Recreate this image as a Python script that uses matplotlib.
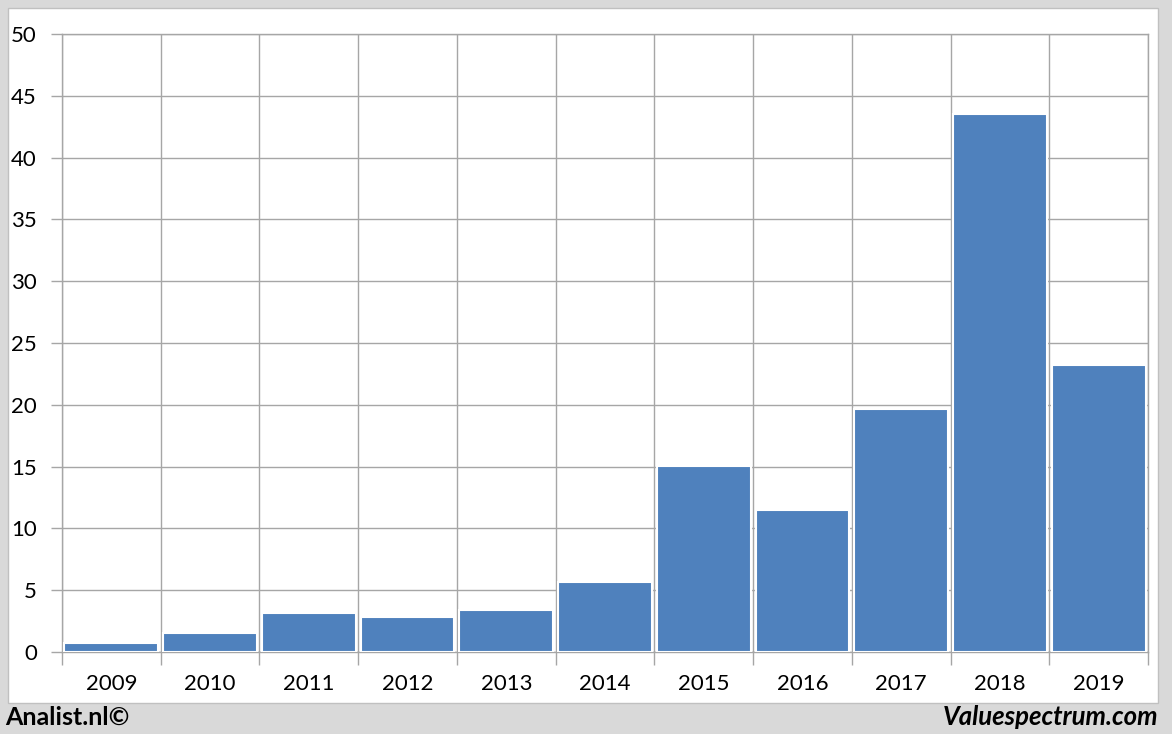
"""
Bar chart of yearly values, 2009-2019, in a grey frame with footer credits
"""

import numpy as np
import matplotlib.pyplot as plt
from matplotlib.patches import Rectangle

# Data
years = ['2009', '2010', '2011', '2012', '2013', '2014', '2015', '2016', '2017', '2018', '2019']
values = [0.75, 1.55, 3.15, 2.8, 3.4, 5.65, 15.05, 11.5, 19.65, 43.5, 23.25]
y_ticks = [0, 5, 10, 15, 20, 25, 30, 35, 40, 45, 50]

BAR_COLOR = '#4f81bd'
GRID_COLOR = '#a6a6a6'
FRAME_COLOR = '#d9d9d9'

plt.rcParams['font.family'] = ['Lato', 'DejaVu Sans']

fig = plt.figure(figsize=(11.72, 7.34), dpi=100)
fig.patch.set_facecolor(FRAME_COLOR)

# White panel inside the grey frame (drawn below the axes)
fig.patches.append(Rectangle((8 / 1172, 31 / 734), 1150 / 1172, 695 / 734,
                             transform=fig.transFigure, facecolor='white',
                             edgecolor='#c0c0c0', linewidth=1, zorder=-10))

ax = fig.add_axes([62 / 1172, (734 - 652) / 734, 1086 / 1172, 618 / 734])
ax.set_facecolor('none')

x = np.arange(len(years))
ax.bar(x, values, width=0.95, color=BAR_COLOR, edgecolor='white', linewidth=1.5, zorder=3)

ax.set_xlim(-0.5, len(years) - 0.5)
ax.set_ylim(0, 50)

# Category labels at centres, grid lines at category boundaries
ax.set_xticks(x)
ax.set_xticklabels(years)
ax.set_xticks(np.arange(-0.5, len(years), 1), minor=True)
ax.tick_params(axis='x', which='major', length=0, pad=16, labelsize=16)
ax.tick_params(axis='x', which='minor', length=9, color=GRID_COLOR, width=1)
ax.set_yticks(y_ticks)
ax.tick_params(axis='y', length=8, color=GRID_COLOR, width=1, pad=10, labelsize=16)

ax.grid(True, axis='x', which='minor', color=GRID_COLOR, linewidth=1, zorder=0)
ax.grid(True, axis='y', which='major', color=GRID_COLOR, linewidth=1, zorder=0)
ax.set_axisbelow(True)

for side in ['top', 'right', 'left', 'bottom']:
    ax.spines[side].set_color(GRID_COLOR)
    ax.spines[side].set_linewidth(1)

# Footer credits
fig.text(5 / 1172, 1 - 717 / 734, 'Analist.nl©', fontsize=18, fontweight='bold',
         ha='left', va='center')
fig.text(1158 / 1172, 1 - 717 / 734, 'Valuespectrum.com', fontsize=18.5, fontweight='bold',
         fontstyle='italic', ha='right', va='center')

fig.savefig('out.png', dpi=100, facecolor=fig.get_facecolor())
